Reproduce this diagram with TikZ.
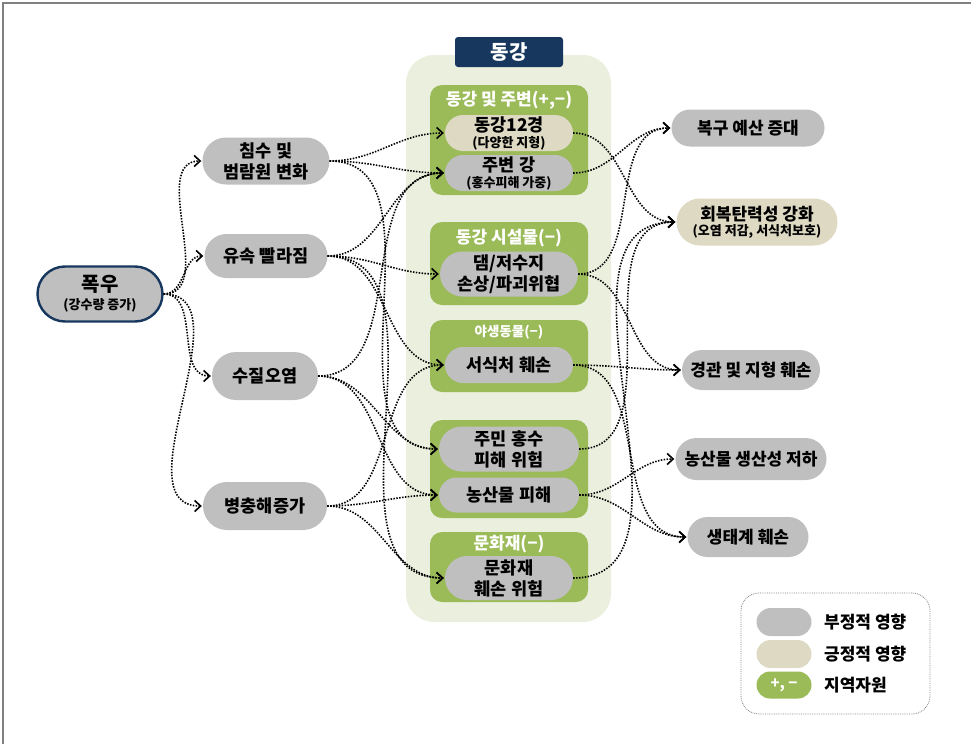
\documentclass[tikz,border=0pt]{standalone}
\usepackage{fontspec}
\setmainfont{Noto Sans CJK KR}
\usetikzlibrary{arrows.meta,shapes.misc}
\definecolor{ngray}{RGB}{191,191,191}
\definecolor{beige}{RGB}{221,217,195}
\definecolor{grn}{RGB}{155,187,89}
\definecolor{lgrn}{RGB}{235,240,222}
\definecolor{navy}{RGB}{23,55,94}
\newcommand\fmain{\fontsize{17.5pt}{21pt}\selectfont\bfseries}
\newcommand\fright{\fontsize{17pt}{20pt}\selectfont\bfseries}
\newcommand\fsub{\fontsize{13pt}{14pt}\selectfont\bfseries}
\newcommand\ftitle{\fontsize{17pt}{19pt}\selectfont\bfseries}
\begin{document}
\begin{tikzpicture}[x=1pt,y=-1pt,
  pill/.style={rounded rectangle, inner sep=0pt, align=center, font=\fmain, text=black},
  bad/.style={pill, fill=ngray},
  good/.style={pill, fill=beige},
  grp/.style={fill=grn, rounded corners=12pt, minimum width=158, inner sep=0pt},
  gtitle/.style={text=white, font=\ftitle, inner sep=0pt},
  link/.style={draw, line width=1.6pt, dash pattern=on 1.5pt off 1.4pt,
    -{Straight Barb[length=6pt,width=11pt,line width=1.6pt]}, shorten >=1pt}
]
\useasboundingbox (0,0) rectangle (971,744);
\draw[gray, line width=1.5pt] (3,744) -- (3,3) -- (971,3);

% container
\node[fill=lgrn, rounded corners=28pt, minimum width=205, minimum height=567, inner sep=0pt] (river) at (508.5,338.5) {};
\node[fill=navy, rounded corners=3pt, minimum width=108, minimum height=30, inner sep=0pt, text=white, font=\fontsize{20pt}{22pt}\selectfont\bfseries] (rtitle) at (509,52) {동강};

% groups
\node[grp, minimum height=110] (g1) at (509,140) {};
\node[gtitle] (g1t) at (509,100) {동강 및 주변(+,−)};
\node[grp, minimum height=83] (g2) at (509,263.5) {};
\node[gtitle] (g2t) at (509,238) {동강 시설물(−)};
\node[grp, minimum height=72] (g3) at (509,356) {};
\node[gtitle, font=\fontsize{13.5pt}{15pt}\selectfont\bfseries] (g3t) at (509,332) {야생동물(−)};
\node[grp, minimum height=98] (g4) at (509,469) {};
\node[grp, minimum height=70] (g5) at (509,567) {};
\node[gtitle] (g5t) at (509,544) {문화재(−)};

% inner nodes
\node[good, minimum width=128, minimum height=36] (d12) at (509,133) {동강12경\\[-5pt]{\fsub(다양한 지형)}};
\node[bad, minimum width=128, minimum height=36] (around) at (509,173) {주변 강\\[-5pt]{\fsub(홍수피해 가중)}};
\node[bad, minimum width=138, minimum height=45] (dam) at (509,274) {댐/저수지\\손상/파괴위협};
\node[bad, minimum width=128, minimum height=36] (habitat) at (509,365) {서식처 훼손};
\node[bad, minimum width=140, minimum height=45] (resid) at (509,449) {주민 홍수\\피해 위험};
\node[bad, minimum width=140, minimum height=35] (agri) at (509,495) {농산물 피해};
\node[bad, minimum width=128, minimum height=44] (cult) at (509,578) {문화재\\훼손 위험};

% left nodes
\node[bad, minimum width=125, minimum height=55, draw=navy, line width=2.4pt, font=\fontsize{20pt}{22pt}\selectfont\bfseries] (rain) at (100,294) {폭우\\[-4pt]{\fsub(강수량 증가)}};
\node[bad, minimum width=127, minimum height=47] (flood) at (266,161) {침수 및\\범람원 변화};
\node[bad, minimum width=123, minimum height=44] (speed) at (266,256) {유속 빨라짐};
\node[bad, minimum width=106, minimum height=48] (qual) at (265,376) {수질오염};
\node[bad, minimum width=124, minimum height=48] (pest) at (265,506) {병충해증가};

% right nodes
\node[bad, font=\fright, minimum width=153, minimum height=37] (budget) at (748,128) {복구 예산 증대};
\node[good, font=\fright, minimum width=161, minimum height=47] (resil) at (757,222) {회복탄력성 강화\\[-5pt]{\fsub(오염 저감, 서식처보호)}};
\node[bad, font=\fright, minimum width=138, minimum height=40] (land) at (751,370) {경관 및 지형 훼손};
\node[bad, font=\fright, minimum width=151, minimum height=42] (prod) at (751,459) {농산물 생산성 저하};
\node[bad, font=\fright, minimum width=121, minimum height=40] (eco) at (748,537) {생태계 훼손};

% legend
\node[draw=gray, densely dotted, line width=0.8pt, rounded corners=18pt, minimum width=189, minimum height=121, inner sep=0pt] (legend) at (835.5,653.5) {};
\node[pill, fill=ngray, minimum width=55, minimum height=28] (lg1) at (784,622) {};
\node[pill, fill=beige, minimum width=55, minimum height=28] (lg2) at (784,654) {};
\node[pill, fill=grn, minimum width=55, minimum height=27, text=white, font=\fontsize{15pt}{17pt}\selectfont\bfseries] (lg3) at (784,685) {+, −};
\node[anchor=west, font=\fright, inner sep=0pt] (lt1) at (824,622) {부정적 영향};
\node[anchor=west, font=\fright, inner sep=0pt] (lt2) at (824,654) {긍정적 영향};
\node[anchor=west, font=\fright, inner sep=0pt] (lt3) at (824,685) {지역자원};

% edges from rain
\path[link] (rain.east) to[out=0,in=180] (flood.west);
\path[link] (rain.east) to[out=0,in=180] (speed.west);
\path[link] (rain.east) to[out=0,in=180] (qual.west);
\path[link] (rain.east) to[out=0,in=180] (pest.west);

% edges to the middle
\path[link] (flood.east) to[out=0,in=180] (d12.west);
\path[link] (flood.east) to[out=0,in=180] (around.west);
\path[link] (flood.east) to[out=0,in=180] (resid.west);
\path[link] (speed.east) to[out=0,in=180] (around.west);
\path[link] (speed.east) to[out=0,in=180] (dam.west);
\path[link] (speed.east) to[out=0,in=180] (habitat.west);
\path[link] (speed.east) to[out=0,in=180] (cult.west);
\path[link] (qual.east) to[out=0,in=180] (around.west);
\path[link] (qual.east) to[out=0,in=180] (resid.west);
\path[link] (qual.east) to[out=0,in=180] (agri.west);
\path[link] (pest.east) to[out=0,in=180] (habitat.west);
\path[link] (pest.east) to[out=0,in=180] (agri.west);
\path[link] (pest.east) to[out=0,in=180] (cult.west);

% edges to the right
\path[link] (d12.east) to[out=0,in=180] (resil.west);
\path[link] (around.east) to[out=0,in=180] (budget.west);
\path[link] (dam.east) to[out=0,in=180] (budget.west);
\path[link] (dam.east) to[out=0,in=180] (land.west);
\path[link] (habitat.east) to[out=0,in=180] (land.west);
\path[link] (habitat.east) to[out=0,in=180] (eco.west);
\path[link] (resid.east) to[out=0,in=180] (resil.west);
\path[link] (agri.east) to[out=0,in=180] (prod.west);
\path[link] (agri.east) to[out=0,in=180] (eco.west);
\path[link] (cult.east) to[out=0,in=180] (resil.west);
\end{tikzpicture}
\end{document}
